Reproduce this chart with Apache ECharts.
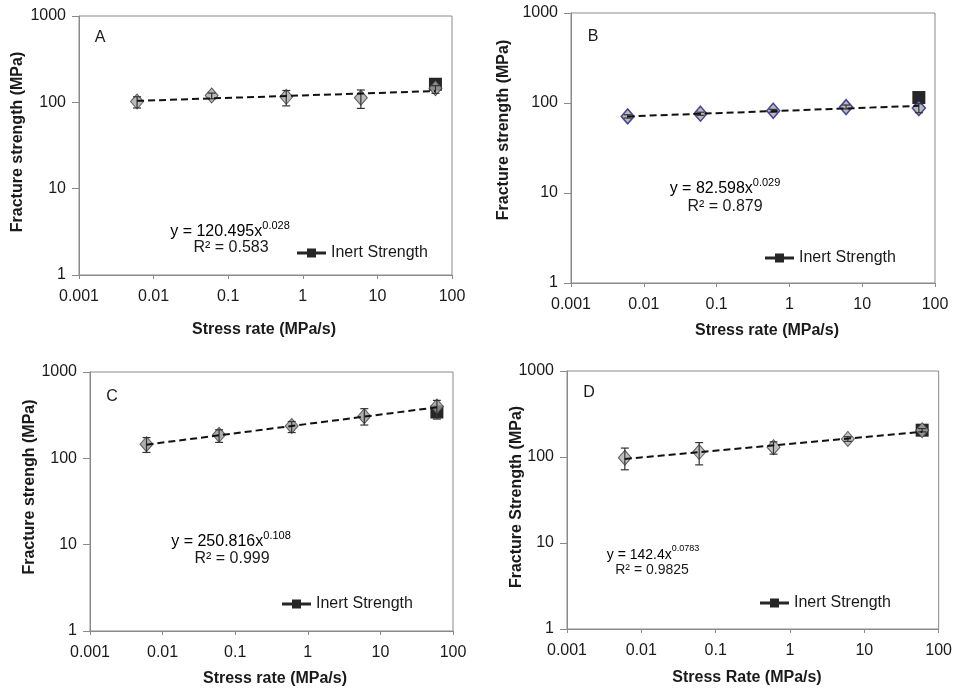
<!DOCTYPE html>
<html><head><meta charset="utf-8">
<script src="https://cdn.jsdelivr.net/npm/echarts@6/dist/echarts.min.js"></script>
<style>html,body{margin:0;padding:0;background:#fff}#c{width:955px;height:691px}</style>
</head><body><div id="c"></div>
<script>
// Shared stress rates (MPa/s)
const rates = [0.006, 0.06, 0.6, 6, 60];
const trendX = [0.006, 60];
const inertX = 60;
const xTicks = ['0.001','0.01','0.1','1','10','100'];
const yTicks = ['1','10','100','1000'];

// Panel A
const aMean = [102, 120, 116, 113, 146];
const aLow  = [86, 110, 91, 85, 127];
const aHigh = [116, 128, 137, 139, 156];
const aInert = 162;
const aTrend = [104, 135];
// Panel B
const bMean = [71, 76, 82, 90, 88];
const bLow  = [68, 73, 79, 86, 78];
const bHigh = [74, 79, 85, 95, 98];
const bInert = 115;
const bTrend = [71, 93];
// Panel C
const cMean = [146, 187, 237, 308, 399];
const cLow  = [117, 153, 199, 243, 285];
const cHigh = [174, 214, 267, 376, 469];
const cInert = 344;
const cTrend = [144, 390];
// Panel D
const dMean = [98, 114, 130, 162, 205];
const dLow  = [71, 81, 108, 152, 196];
const dHigh = [127, 147, 150, 172, 214];
const dInert = 205;
const dTrend = [95, 196];

const FONT = '"Liberation Sans", Arial, sans-serif';
const TXT = '#1a1a1a';
const AX = '#8a8a8a';

const panels = [
  {mean:aMean, low:aLow, high:aHigh, inert:aInert, trend:aTrend, edge:'#404040', edgeW:1, fill:'#a8a8a8',
   grid:{left:79, top:16, width:373, height:259}, legend:{left:292, top:240}},
  {mean:bMean, low:bLow, high:bHigh, inert:bInert, trend:bTrend, edge:'#1c1c8c', edgeW:1.5, fill:'#a8a8a8',
   grid:{left:571, top:13, width:364, height:270}, legend:{left:760, top:245}},
  {mean:cMean, low:cLow, high:cHigh, inert:cInert, trend:cTrend, edge:'#404040', edgeW:1, fill:'#999999',
   grid:{left:90, top:372, width:363, height:259}, legend:{left:277, top:591}},
  {mean:dMean, low:dLow, high:dHigh, inert:dInert, trend:dTrend, edge:'#404040', edgeW:1, fill:'#b0b0b0',
   grid:{left:567, top:371, width:373, height:258}, legend:{left:755, top:590}}
];

const grid = [], xAxis = [], yAxis = [], series = [], legend = [];
const fmt = v => String(+Number(v).toPrecision(3));

panels.forEach((p, i) => {
  grid.push(Object.assign({show:true, borderColor:AX, borderWidth:1, containLabel:false}, p.grid));
  xAxis.push({type:'log', logBase:10, gridIndex:i, min:0.001, max:100,
    axisLine:{lineStyle:{color:AX}}, axisTick:{inside:false, length:4, lineStyle:{color:AX}},
    splitLine:{show:false}, minorTick:{show:false},
    axisLabel:{color:TXT, fontFamily:FONT, fontSize:16, margin:14,
      formatter: v => { const s = fmt(v); return xTicks.indexOf(s) >= 0 ? s : ''; }}});
  yAxis.push({type:'log', logBase:10, gridIndex:i, min:1, max:1000,
    axisLine:{show:true, lineStyle:{color:AX}}, axisTick:{show:true, inside:false, length:7, lineStyle:{color:AX}},
    splitLine:{show:false},
    axisLabel:{color:TXT, fontFamily:FONT, fontSize:16, margin:13,
      formatter: v => { const s = fmt(v); return yTicks.indexOf(s) >= 0 ? s : ''; }}});

  // inert strength square (also provides legend entry)
  series.push({name:'Inert Strength', type:'line', xAxisIndex:i, yAxisIndex:i, z:2,
    symbol:'rect', symbolSize:13, showSymbol:true,
    itemStyle:{color:'#262626'}, lineStyle:{color:'#262626', width:2},
    data:[[inertX, p.inert]]});
  // data diamonds
  series.push({name:'data'+i, type:'scatter', xAxisIndex:i, yAxisIndex:i, z:3,
    symbol:'diamond', symbolSize:[13,15],
    itemStyle:{color:p.fill, borderColor:p.edge, borderWidth:p.edgeW},
    data: rates.map((x,k) => [x, p.mean[k]])});
  // error bars
  series.push({name:'err'+i, type:'custom', xAxisIndex:i, yAxisIndex:i, z:4,
    data: rates.map((x,k) => [x, p.low[k], p.high[k]]),
    encode:{x:0, y:[1,2]},
    renderItem:(params, api) => {
      const x = api.value(0);
      const a = api.coord([x, api.value(1)]);
      const b = api.coord([x, api.value(2)]);
      const cap = 4;
      const st = {stroke:'#333', lineWidth:1.2};
      return {type:'group', children:[
        {type:'line', shape:{x1:a[0], y1:a[1], x2:b[0], y2:b[1]}, style:st},
        {type:'line', shape:{x1:a[0]-cap, y1:a[1], x2:a[0]+cap, y2:a[1]}, style:st},
        {type:'line', shape:{x1:b[0]-cap, y1:b[1], x2:b[0]+cap, y2:b[1]}, style:st}
      ]};
    }});
  // power-law trendline
  series.push({name:'trend'+i, type:'line', xAxisIndex:i, yAxisIndex:i, z:5,
    symbol:'none', lineStyle:{color:'#111', width:2, type:[7,4]},
    data: trendX.map((x,k) => [x, p.trend[k]])});

  legend.push({show:true, left:p.legend.left, top:p.legend.top, data:[{name:'Inert Strength',
      icon:'path://M0,3H10V0H19V3H29V6H19V9H10V6H0Z'}],
    itemWidth:29, itemHeight:9, selectedMode:false,
    itemStyle:{color:'#262626', borderWidth:0},
    textStyle:{color:TXT, fontFamily:FONT, fontSize:16}});
});

function t(x, y, text, size) {
  return {type:'text', x:x, y:y, silent:true,
    style:{text:text, fill:TXT, font:size+'px '+FONT, align:'center', verticalAlign:'middle'}};
}
function eq(x, y, main, sup, size) {
  return {type:'text', x:x, y:y, silent:true, style:{
    text:'{m|'+main+'}{s|'+sup+'}', align:'center', verticalAlign:'middle',
    rich:{m:{fontSize:size, fontFamily:FONT, color:TXT, lineHeight:size+4, verticalAlign:'bottom'},
          s:{fontSize:Math.round(size*0.66), fontFamily:FONT, color:TXT, lineHeight:size+4, verticalAlign:'top'}}}};
}
function bold(x, y, text, rot) {
  return {type:'text', x:x, y:y, rotation:rot||0, silent:true,
    style:{text:text, fill:TXT, font:'bold 16px '+FONT, align:'center', verticalAlign:'middle'}};
}

const graphic = [
  t(100, 38, 'A', 16), t(593, 37, 'B', 16), t(112, 397, 'C', 16), t(589, 393, 'D', 16),
  eq(230, 230, 'y = 120.495x', '0.028', 16), t(231, 248, 'R² = 0.583', 16),
  eq(725, 187, 'y = 82.598x', '0.029', 16), t(725, 207, 'R² = 0.879', 16),
  eq(231, 540, 'y = 250.816x', '0.108', 16), t(232, 559, 'R² = 0.999', 16),
  eq(653, 553, 'y = 142.4x', '0.0783', 14), t(652, 570, 'R² = 0.9825', 14),
  bold(264, 330, 'Stress rate (MPa/s)'), bold(767, 331, 'Stress rate (MPa/s)'),
  bold(275, 679, 'Stress rate (MPa/s)'), bold(747, 678, 'Stress Rate (MPa/s)'),
  bold(18, 142, 'Fracture strength (MPa)', Math.PI/2),
  bold(504, 130, 'Fracture strength (MPa)', Math.PI/2),
  bold(30, 487, 'Fracture strengh (MPa)', Math.PI/2),
  bold(517, 497, 'Fracture Strength (MPa)', Math.PI/2)
];

const chart = echarts.init(document.getElementById('c'), null, {renderer:'canvas'});
chart.setOption({animation:false, backgroundColor:'#fff', grid, xAxis, yAxis, series, legend, graphic});
</script></body></html>
